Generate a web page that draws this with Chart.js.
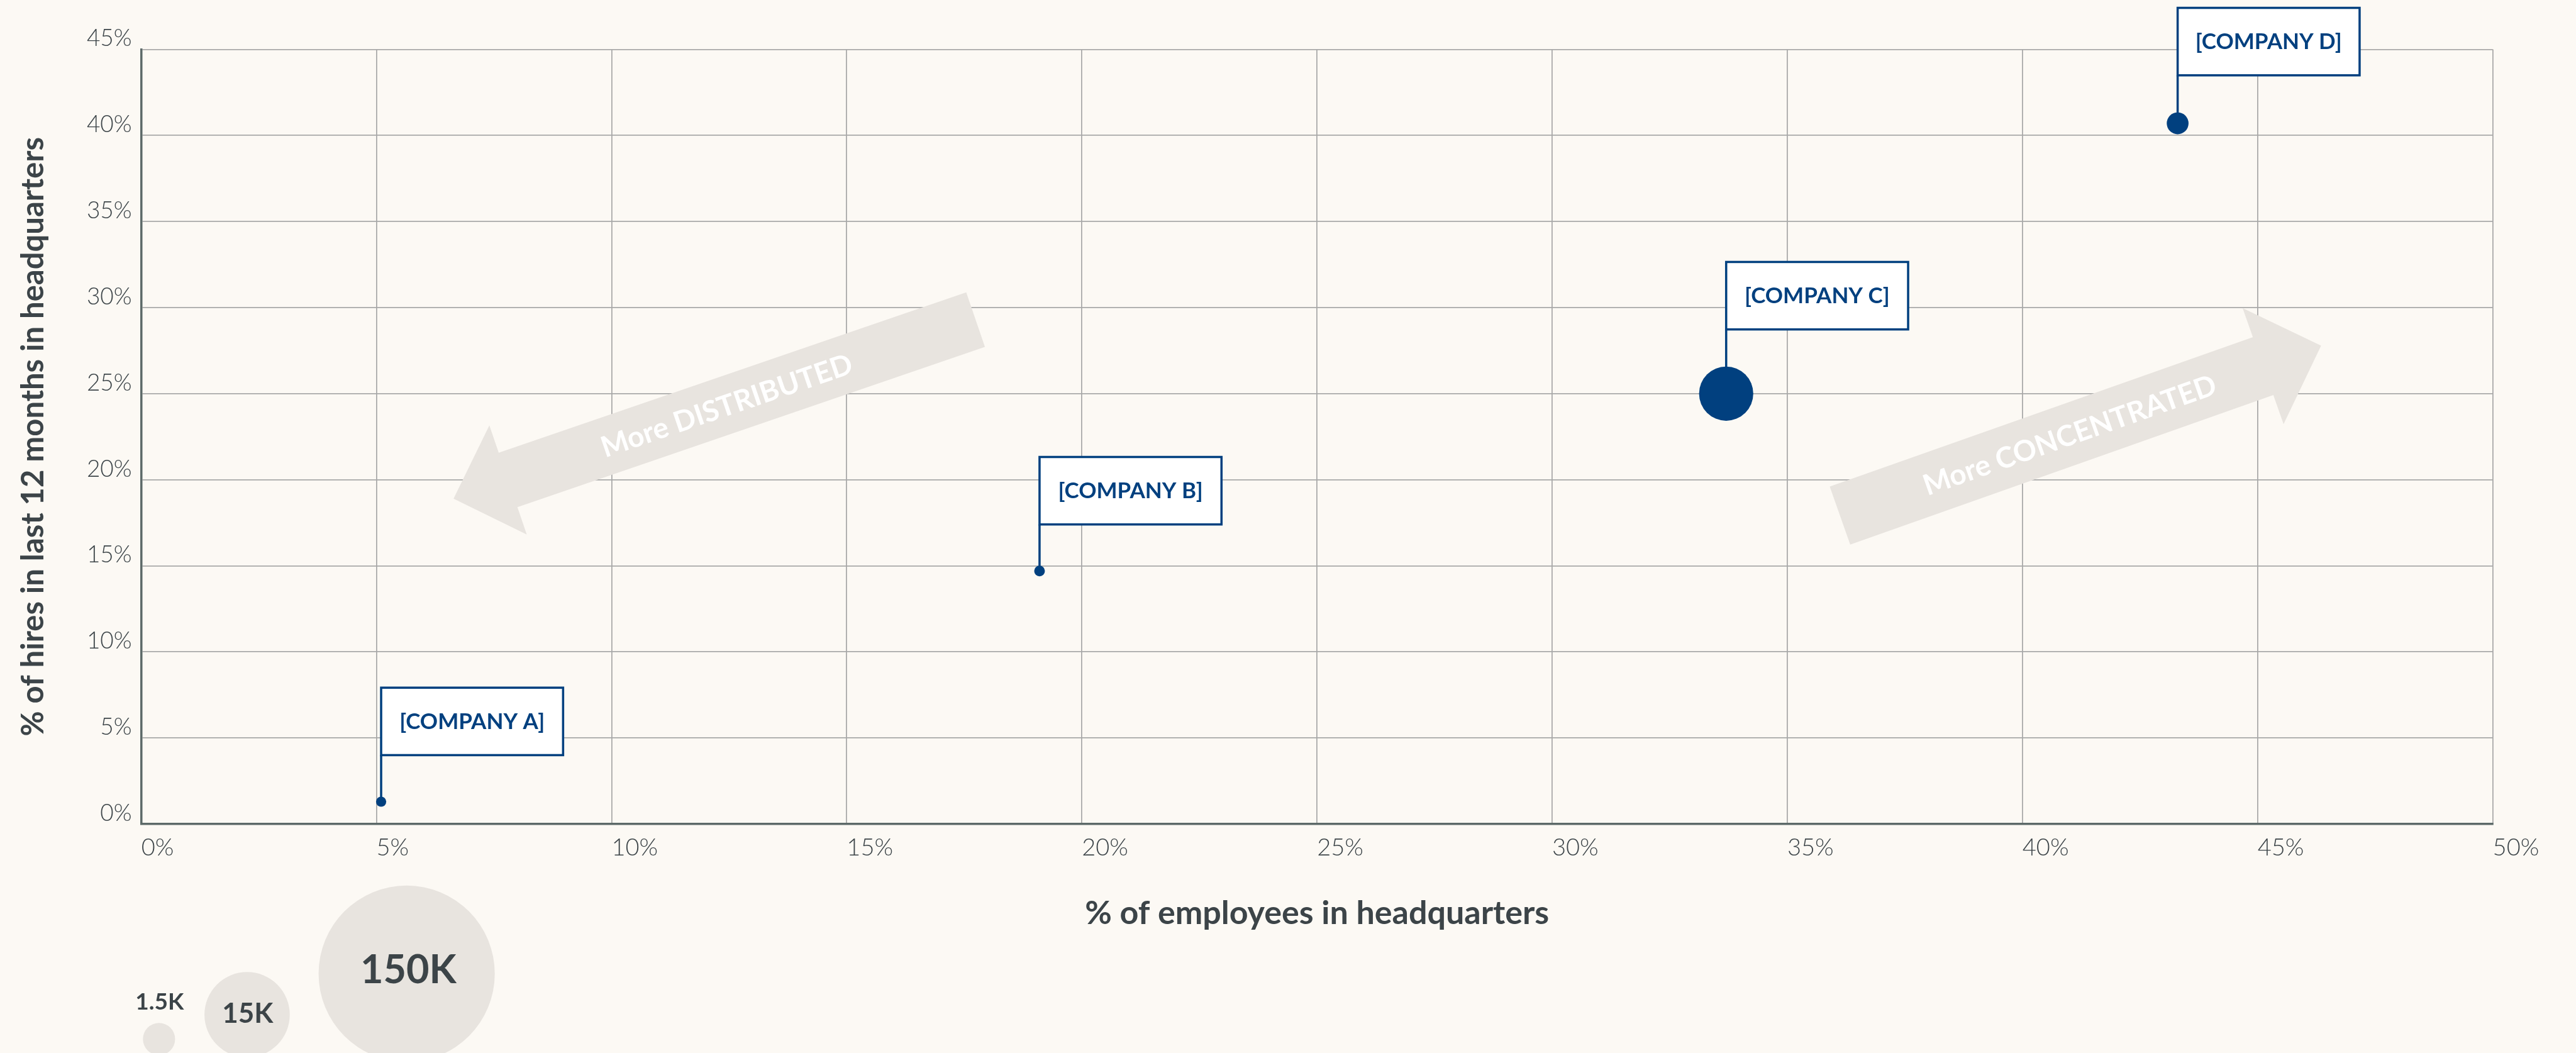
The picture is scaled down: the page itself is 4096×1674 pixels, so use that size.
<!DOCTYPE HTML>
<html>
<head>
  <meta charset="utf-8">
  <script src="https://cdn.jsdelivr.net/npm/chart.js@4.4.0/dist/chart.umd.min.js"></script>
  <style>
    html, body { margin: 0; padding: 0; background: #fcf9f4; }
    #wrap { width: 4096px; height: 1674px; }
  </style>
</head>
<body>
<div id="wrap"><canvas id="myChart" width="4096" height="1674"></canvas></div>
<script>
  var S = 0.881; // reference px -> page px

  //-------------------------------------
  // values
  var companies = ['[COMPANY A]', '[COMPANY B]', '[COMPANY C]', '[COMPANY D]'];
  var employeesInHQ = [5.1, 19.1, 33.7, 43.3];   // x, %
  var hiresInHQ = [1.3, 14.7, 25.0, 40.7];        // y, %
  var headcountK = [0.5, 0.55, 14.2, 2.3];        // bubble size, thousands of employees
  var xTickLabels = ['0%', '5%', '10%', '15%', '20%', '25%', '30%', '35%', '40%', '45%', '50%'];
  var yTickLabels = ['0%', '5%', '10%', '15%', '20%', '25%', '30%', '35%', '40%', '45%'];
  var sizeLegend = ['1.5K', '15K', '150K'];
  var arrowTexts = ['More DISTRIBUTED', 'More CONCENTRATED'];
  var xTitle = '% of employees in headquarters';
  var yTitle = '% of hires in last 12 months in headquarters';
  //-------------------------------------

  var NAVY = '#01407f', INK = '#3c4448', GRID = '#a8a8a8', AXIS = '#5d6a69',
      PAPER = '#fcf9f4', SAND = '#e8e4df';

  // area of the bubble follows headcount (150K -> 159px in the reference)
  function bubbleRadius(k) {
    return 159 * S * Math.sqrt(k / 150);
  }

  var points = [];
  for (var i = 0; i < companies.length; i++) {
    points.push({ x: employeesInHQ[i], y: hiresInHQ[i], r: bubbleRadius(headcountK[i]) });
  }

  var backdrop = {
    id: 'backdrop',
    beforeDraw: function(chart) {
      var ctx = chart.ctx;
      ctx.save();
      ctx.fillStyle = PAPER;
      ctx.fillRect(0, 0, chart.width, chart.height);
      ctx.restore();
    }
  };

  // arrows (in axis units) and company flags, drawn above the grid, below the bubbles
  var annotations = {
    id: 'annotations',
    beforeDatasetsDraw: function(chart, args, opts) {
      var ctx = chart.ctx, xs = chart.scales.x, ys = chart.scales.y;
      ctx.save();

      opts.arrows.forEach(function(a, k) {
        var tx = xs.getPixelForValue(a.from[0]), ty = ys.getPixelForValue(a.from[1]);
        var hx = xs.getPixelForValue(a.to[0]), hy = ys.getPixelForValue(a.to[1]);
        var len = Math.hypot(hx - tx, hy - ty);
        var ux = (hx - tx) / len, uy = (hy - ty) / len;
        var nx = -uy, ny = ux;
        var w = a.width * S, half = w / 2;
        var bx = hx - ux * w, by = hy - uy * w;
        ctx.beginPath();
        ctx.moveTo(tx + nx * half, ty + ny * half);
        ctx.lineTo(bx + nx * half, by + ny * half);
        ctx.lineTo(bx + nx * w, by + ny * w);
        ctx.lineTo(hx, hy);
        ctx.lineTo(bx - nx * w, by - ny * w);
        ctx.lineTo(bx - nx * half, by - ny * half);
        ctx.lineTo(tx - nx * half, ty - ny * half);
        ctx.closePath();
        ctx.fillStyle = SAND;
        ctx.fill();

        var cx = tx + ux * len * 0.477, cy = ty + uy * len * 0.477;
        var ang = Math.atan2(uy, ux);
        if (ux < 0) ang += Math.PI;
        ctx.save();
        ctx.translate(cx, cy);
        ctx.rotate(ang);
        ctx.fillStyle = '#ffffff';
        ctx.font = 'bold 46px Lato';
        ctx.textAlign = 'center';
        ctx.textBaseline = 'middle';
        ctx.fillText(arrowTexts[k], 0, 2);
        ctx.restore();
      });

      var meta = chart.getDatasetMeta(0);
      meta.data.forEach(function(pt, i) {
        var r = points[i].r;
        var bottom = pt.y - Math.max(84 * S, r + 67 * S);
        var bw = 328.4 * S, bh = 121.7 * S;
        ctx.strokeStyle = NAVY;
        ctx.lineWidth = 4 * S;
        ctx.beginPath();
        ctx.moveTo(pt.x, pt.y);
        ctx.lineTo(pt.x, bottom);
        ctx.stroke();
        ctx.fillStyle = '#ffffff';
        ctx.fillRect(pt.x, bottom - bh, bw, bh);
        ctx.strokeRect(pt.x, bottom - bh, bw, bh);
        ctx.fillStyle = NAVY;
        ctx.font = 'bold 35px Lato';
        ctx.textAlign = 'center';
        ctx.textBaseline = 'middle';
        ctx.fillText(companies[i], pt.x + bw / 2, bottom - bh / 2 + 1);
      });
      ctx.restore();
    }
  };

  // axis titles and the bubble size key
  var extras = {
    id: 'extras',
    afterDraw: function(chart, args, opts) {
      var ctx = chart.ctx, area = chart.chartArea;
      ctx.save();
      ctx.fillStyle = INK;
      ctx.textAlign = 'center';
      ctx.textBaseline = 'alphabetic';
      ctx.font = 'bold 52px Lato';
      ctx.fillText(xTitle, (area.left + area.right) / 2, 1667 * S);

      ctx.save();
      ctx.translate(78 * S, (area.top + area.bottom) / 2);
      ctx.rotate(-Math.PI / 2);
      ctx.font = 'bold 49px Lato';
      ctx.fillText(yTitle, 0, 0);
      ctx.restore();

      ctx.textBaseline = 'middle';
      opts.key.forEach(function(k, i) {
        ctx.fillStyle = SAND;
        ctx.beginPath();
        ctx.arc(k.cx * S, k.cy * S, k.r * S, 0, Math.PI * 2);
        ctx.fill();
        ctx.fillStyle = INK;
        ctx.font = 'bold ' + Math.round(k.font * S) + 'px Lato';
        ctx.fillText(sizeLegend[i], k.tx * S, k.ty * S);
      });
      ctx.restore();
    }
  };

  var ctx = document.getElementById('myChart').getContext('2d');
  var myChart = new Chart(ctx, {
    type: 'bubble',
    data: {
      datasets: [{
        data: points,
        backgroundColor: NAVY,
        borderWidth: 0,
        hoverRadius: 0
      }]
    },
    plugins: [backdrop, annotations, extras],
    options: {
      responsive: false,
      animation: false,
      devicePixelRatio: 1,
      events: [],
      layout: { padding: { left: 0, top: 89 * S, right: 4096 - 4499 * S, bottom: 1674 - 1487 * S - 90 } },
      font: { family: 'Lato' },
      plugins: {
        legend: { display: false },
        tooltip: { enabled: false },
        annotations: {
          arrows: [
            { from: [17.74, 29.3], to: [6.64, 18.9], width: 104 },
            { from: [36.12, 17.92], to: [46.35, 27.79], width: 111 }
          ]
        },
        extras: {
          key: [
            { cx: 287, cy: 1875, r: 29, tx: 288, ty: 1808, font: 42 },
            { cx: 446, cy: 1831, r: 77, tx: 447, ty: 1829, font: 50 },
            { cx: 734, cy: 1757, r: 159, tx: 737, ty: 1751, font: 72 }
          ]
        }
      },
      scales: {
        x: {
          type: 'linear', min: 0, max: 50,
          afterFit: function(s) { s.height = 90; s.paddingLeft = 0; s.paddingRight = 0; },
          grid: { color: GRID, lineWidth: 2 * S, drawTicks: false },
          border: { color: AXIS, width: 4 * S },
          ticks: {
            stepSize: 5, autoSkip: false, maxRotation: 0, align: 'start', padding: 15,
            color: INK, font: { family: 'Lato', size: 38, weight: 300 },
            callback: function(v, i) { return xTickLabels[i]; }
          }
        },
        y: {
          type: 'linear', min: 0, max: 45,
          afterFit: function(s) { s.width = 255 * S; s.paddingTop = 0; s.paddingBottom = 0; },
          grid: { color: GRID, lineWidth: 2 * S, drawTicks: false },
          border: { color: AXIS, width: 4 * S },
          ticks: {
            stepSize: 5, autoSkip: false, padding: 15, labelOffset: -17,
            color: INK, font: { family: 'Lato', size: 37, weight: 300 },
            callback: function(v, i) { return yTickLabels[i]; }
          }
        }
      }
    }
  });
</script>
</body>
</html>
